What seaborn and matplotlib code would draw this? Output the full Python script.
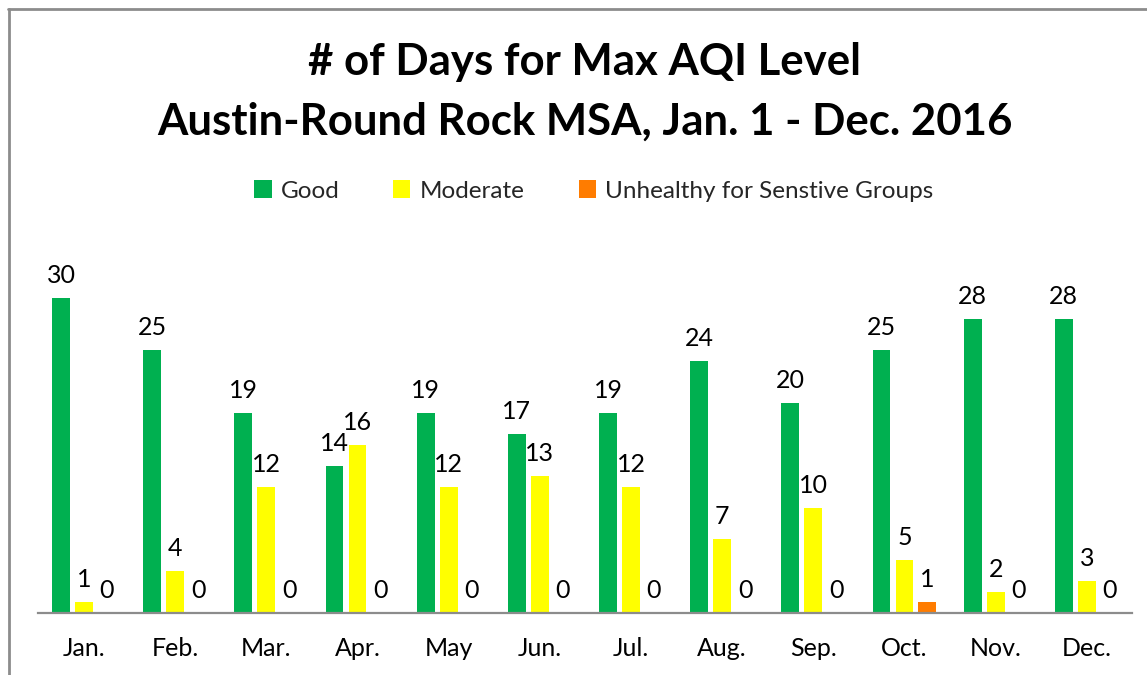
import matplotlib
matplotlib.use("Agg")
import matplotlib.pyplot as plt
import seaborn as sns
import pandas as pd
from matplotlib.lines import Line2D
from matplotlib.patches import Patch

months = ["Jan.", "Feb.", "Mar.", "Apr.", "May", "Jun.", "Jul.", "Aug.", "Sep.", "Oct.", "Nov.", "Dec."]
good = [30, 25, 19, 14, 19, 17, 19, 24, 20, 25, 28, 28]
moderate = [1, 4, 12, 16, 12, 13, 12, 7, 10, 5, 2, 3]
usg = [0, 0, 0, 0, 0, 0, 0, 0, 0, 1, 0, 0]
series = ["Good", "Moderate", "Unhealthy for Senstive Groups"]
colors = ["#00B050", "#FFFF00", "#FF7C00"]

rows = []
for name, vals in zip(series, [good, moderate, usg]):
    for m, v in zip(months, vals):
        rows.append({"Month": m, "Level": name, "Days": v})
df = pd.DataFrame(rows)

sns.set_theme(style="white")
plt.rcParams['font.family'] = ['Lato', 'DejaVu Sans']

W, H = 1147, 675
fig = plt.figure(figsize=(W / 100, H / 100), dpi=100)
ax = fig.add_axes([38.4 / W, (H - 613) / H, 1094 / W, (613 - 257) / H])

sns.barplot(data=df, x="Month", y="Days", hue="Level", order=months, hue_order=series,
            palette=colors, width=0.756, gap=0.22, ax=ax, legend=False, saturation=1,
            edgecolor="none", linewidth=0)

for cont in ax.containers:
    ax.bar_label(cont, fmt="%d", padding=8, fontsize=18, color="black")

ax.set_ylim(0, 33.9)
ax.set_xlim(-0.5, 11.5)
ax.set_xlabel("")
ax.set_ylabel("")
ax.set_yticks([])
for s in ["top", "right", "left"]:
    ax.spines[s].set_visible(False)
ax.spines["bottom"].set_color("#8C8C8C")
ax.spines["bottom"].set_linewidth(1.6)
ax.tick_params(axis="x", length=0, pad=17, labelsize=18, colors="black")

fig.text(585 / W, 1 - 62 / H, "# of Days for Max AQI Level", ha="center", va="center",
         fontsize=31.5, fontweight="bold", color="black")
fig.text(585 / W, 1 - 122 / H, "Austin-Round Rock MSA, Jan. 1 - Dec. 2016", ha="center", va="center",
         fontsize=31.5, fontweight="bold", color="black")

handles = [Patch(facecolor=c, edgecolor="none") for c in colors]
fig.legend(handles, series, loc="center", bbox_to_anchor=(594 / W, 1 - 191 / H), ncol=3,
           frameon=False, fontsize=17.5, handlelength=0.7, handleheight=0.7,
           handletextpad=0.4, columnspacing=2.2)

fig.add_artist(Line2D([8.5 / W, 8.5 / W], [0, 1 - 9 / H], transform=fig.transFigure,
                      color="#8C8C8C", linewidth=2))
fig.add_artist(Line2D([8 / W, 1], [1 - 9 / H, 1 - 9 / H], transform=fig.transFigure,
                      color="#8C8C8C", linewidth=2))

fig.savefig("out.png", dpi=100)
